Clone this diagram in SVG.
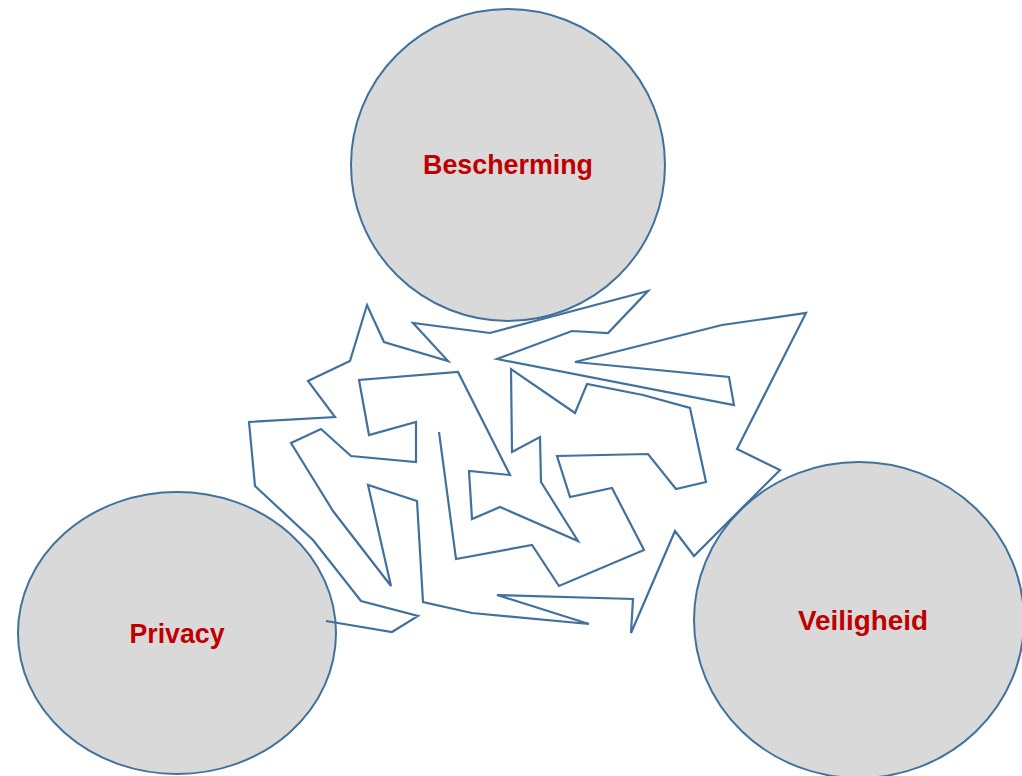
<svg xmlns="http://www.w3.org/2000/svg" width="1022" height="776" viewBox="0 0 1022 776">
<style>
.c{fill:#D9D9D9;stroke:#41719C;stroke-width:2}
.t{font-family:"Liberation Sans",Arial,sans-serif;font-weight:bold;font-size:27px;fill:#C00000;text-anchor:middle}
.w{fill:none;stroke:#41719C;stroke-width:2.2;stroke-linejoin:miter}
</style>
<rect width="1022" height="776" fill="#fff"/>
<g id="bescherming">
<ellipse class="c" cx="508" cy="165" rx="157" ry="156"/>
<text class="t" x="508" y="174" textLength="170" lengthAdjust="spacingAndGlyphs">Bescherming</text>
</g>
<g id="privacy">
<ellipse class="c" cx="177" cy="633" rx="159" ry="141"/>
<text class="t" x="177" y="643" textLength="95" lengthAdjust="spacingAndGlyphs">Privacy</text>
</g>
<g id="veiligheid">
<ellipse class="c" cx="859" cy="620" rx="165" ry="158"/>
<text class="t" x="863" y="630" textLength="130" lengthAdjust="spacingAndGlyphs">Veiligheid</text>
</g>
<g id="connectors">
<polyline class="w" points="326,621 392,632 418,616 361,601 313,540 255,486 249,422 335,417 308,381 350,361 367,305 384,342 448,361 413,323 490,333 648,291 608,333 572,331 497,359 734,405 729,377 575,362 722,325 806,313 737,449 780,470 694,556 675,531 631,633 633,599 497,595 589,624 472,613 423,602 417,501 368,485 391,586 333,511 291,443 321,429 351,456 416,462 416,422 369,435 359,380 458,372 510,475 469,471 472,519 500,507 578,541 541,482 540,437 512,452 511,369 575,413 587,384 643,395 690,408 706,482 676,489 648,454 557,456 570,497 612,488 644,550 559,586 532,545 456,559 439,432"/>
</g>
</svg>
